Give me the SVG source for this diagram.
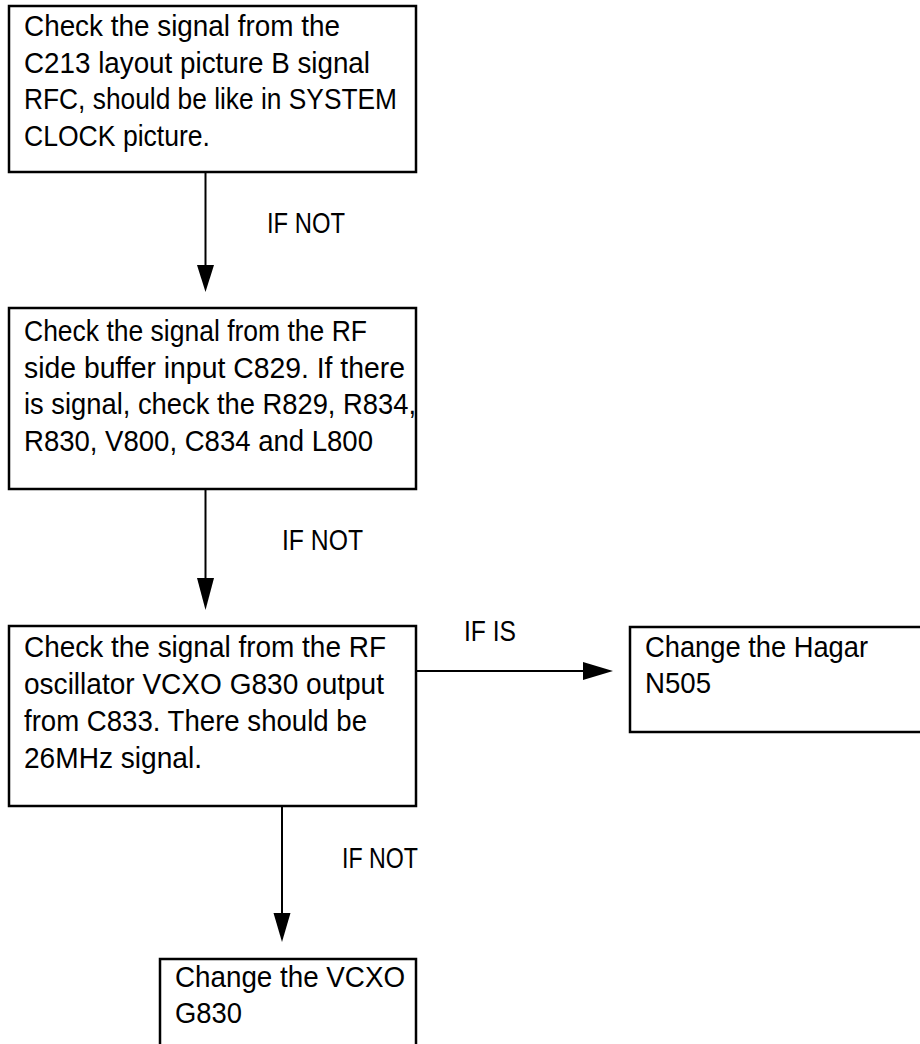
<svg xmlns="http://www.w3.org/2000/svg" width="920" height="1044" viewBox="0 0 920 1044">
<defs>
<style>
.box{fill:#fff;stroke:#000;stroke-width:2.5}
.t{font-family:"Liberation Sans",Arial,sans-serif;font-size:29px;fill:#000}
.c{stroke:#000;stroke-width:2;fill:none}
.h{fill:#000;stroke:none}
</style>
</defs>
<rect width="920" height="1044" fill="#fff"/>
<g id="connectors">
<line class="c" x1="205.5" y1="172" x2="205.5" y2="268"/>
<polygon class="h" points="197,265 214,265 205.5,292"/>
<text class="t" x="267" y="233" textLength="78" lengthAdjust="spacingAndGlyphs">IF NOT</text>
<line class="c" x1="205.5" y1="489" x2="205.5" y2="582"/>
<polygon class="h" points="197,578 214,578 205.5,610"/>
<text class="t" x="282" y="550" textLength="81" lengthAdjust="spacingAndGlyphs">IF NOT</text>
<line class="c" x1="417" y1="671" x2="586" y2="671"/>
<polygon class="h" points="583,662 583,680 613,671"/>
<text class="t" x="464" y="641" textLength="52" lengthAdjust="spacingAndGlyphs">IF IS</text>
<line class="c" x1="282" y1="806" x2="282" y2="916"/>
<polygon class="h" points="273.5,913 290.5,913 282,942"/>
<text class="t" x="342" y="868" textLength="76" lengthAdjust="spacingAndGlyphs">IF NOT</text>
</g>
<g id="n1">
<rect class="box" x="9" y="6" width="407" height="166"/>
<text class="t" x="24" y="36" textLength="316" lengthAdjust="spacingAndGlyphs">Check the signal from the</text>
<text class="t" x="24" y="72.5" textLength="346" lengthAdjust="spacingAndGlyphs">C213 layout picture B signal</text>
<text class="t" x="24" y="109" textLength="373" lengthAdjust="spacingAndGlyphs">RFC, should be like in SYSTEM</text>
<text class="t" x="24" y="145.5" textLength="186" lengthAdjust="spacingAndGlyphs">CLOCK picture.</text>
</g>
<g id="n2">
<rect class="box" x="9" y="308" width="407" height="181"/>
<text class="t" x="24" y="341" textLength="343" lengthAdjust="spacingAndGlyphs">Check the signal from the RF</text>
<text class="t" x="24" y="377.5" textLength="381" lengthAdjust="spacingAndGlyphs">side buffer input C829. If there</text>
<text class="t" x="24" y="414" textLength="392" lengthAdjust="spacingAndGlyphs">is signal, check the R829, R834,</text>
<text class="t" x="24" y="450.5" textLength="349" lengthAdjust="spacingAndGlyphs">R830, V800, C834 and L800</text>
</g>
<g id="n3">
<rect class="box" x="9" y="626" width="407" height="180"/>
<text class="t" x="24" y="657" textLength="362" lengthAdjust="spacingAndGlyphs">Check the signal from the RF</text>
<text class="t" x="24" y="694" textLength="360" lengthAdjust="spacingAndGlyphs">oscillator VCXO G830 output</text>
<text class="t" x="24" y="731" textLength="343" lengthAdjust="spacingAndGlyphs">from C833. There should be</text>
<text class="t" x="24" y="768" textLength="178" lengthAdjust="spacingAndGlyphs">26MHz signal.</text>
</g>
<g id="n4">
<rect class="box" x="630" y="627" width="295" height="105"/>
<text class="t" x="645" y="657" textLength="223" lengthAdjust="spacingAndGlyphs">Change the Hagar</text>
<text class="t" x="645" y="693" textLength="66" lengthAdjust="spacingAndGlyphs">N505</text>
</g>
<g id="n5">
<rect class="box" x="160" y="959" width="256" height="90"/>
<text class="t" x="175" y="987" textLength="230" lengthAdjust="spacingAndGlyphs">Change the VCXO</text>
<text class="t" x="175" y="1023" textLength="67" lengthAdjust="spacingAndGlyphs">G830</text>
</g>
</svg>
